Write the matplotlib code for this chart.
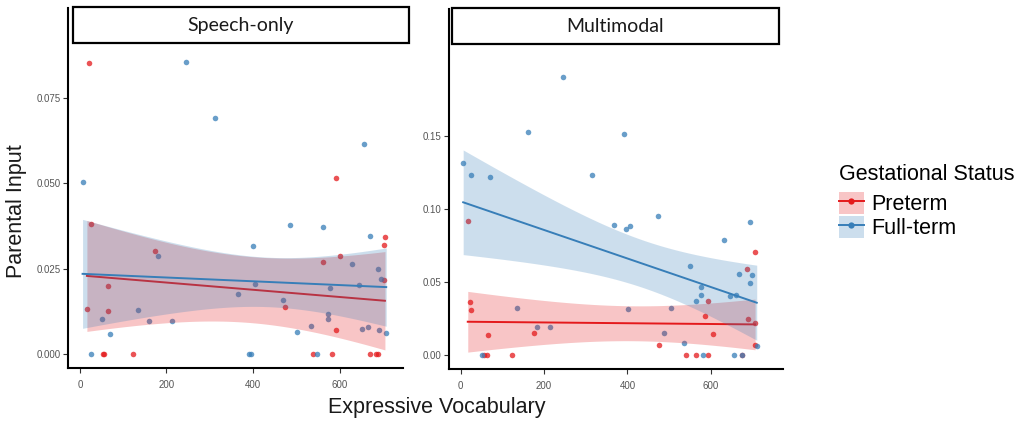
import numpy as np
import matplotlib
matplotlib.use("Agg")
import matplotlib.pyplot as plt
from matplotlib.patches import Rectangle, Patch
from matplotlib.lines import Line2D

plt.rcParams['font.family'] = ['Liberation Sans', 'DejaVu Sans']

# ---------------- data ----------------
groups = ["Preterm", "Full-term"]
group_colors = ["#E41A1C", "#377EB8"]
panels = ["Speech-only", "Multimodal"]

speech_pre_x = [16, 21, 25, 53, 56, 65, 65, 123, 174, 473, 538, 563, 583, 591, 591,
                602, 671, 684, 689, 703, 704, 705]
speech_pre_y = [0.0131, 0.0854, 0.0381, 0, 0, 0.0200, 0.0125, 0, 0.0303, 0.0139,
                0, 0.0270, 0, 0.0069, 0.0515, 0.0286, 0, 0, 0, 0.0320, 0.0217, 0.0343]

speech_full_x = [6, 25, 50, 69, 133, 160, 181, 212, 244, 312, 366, 391, 395, 400, 405,
                 470, 486, 502, 534, 548, 563, 574, 574, 579, 630, 644, 653, 657, 666,
                 671, 690, 691, 697, 708]
speech_full_y = [0.0505, 0, 0.0102, 0.0058, 0.0130, 0.0096, 0.0288, 0.0098, 0.0857,
                 0.0693, 0.0177, 0, 0, 0.0317, 0.0204, 0.0159, 0.0379, 0.0064, 0.0082,
                 0, 0.0371, 0.0118, 0.0103, 0.0194, 0.0264, 0.0201, 0.0074, 0.0616,
                 0.0079, 0.0347, 0.0248, 0.0070, 0.0220, 0.0061]

multi_pre_x = [17, 22, 25, 55, 63, 65, 124, 176, 475, 540, 565, 585, 593, 594, 605,
               674, 686, 689, 705, 706, 706]
multi_pre_y = [0.0914, 0.0364, 0.0305, 0, 0, 0.0133, 0, 0.0149, 0.0069, 0, 0, 0.0263,
               0.0367, 0, 0.0142, 0, 0.0586, 0.0247, 0.0215, 0.0705, 0.0069]

multi_full_x = [6, 25, 50, 70, 134, 161, 182, 214, 246, 314, 367, 392, 396, 401,
                405, 473, 487, 504, 536, 550, 565, 576, 576, 581, 632, 647, 655, 661,
                668, 674, 693, 693, 699, 710]
multi_full_y = [0.1314, 0.1232, 0, 0.1222, 0.0323, 0.1525, 0.0188, 0.0193, 0.1905,
                0.1232, 0.0888, 0.1513, 0.0861, 0.0316, 0.0886, 0.0953, 0.0149, 0.0321,
                0.0080, 0.0609, 0.0369, 0.0467, 0.0412, 0, 0.0788, 0.0401, 0, 0.0410,
                0.0554, 0, 0.0909, 0.0492, 0.0547, 0.0062]

x_ticks = [0, 200, 400, 600]
speech_yticks = [0.000, 0.025, 0.050, 0.075]
multi_yticks = [0.00, 0.05, 0.10, 0.15]

panel_data = [
    [(speech_pre_x, speech_pre_y), (speech_full_x, speech_full_y)],
    [(multi_pre_x, multi_pre_y), (multi_full_x, multi_full_y)],
]
panel_yticks = [speech_yticks, multi_yticks]
panel_yfmt = ["{:.3f}", "{:.2f}"]
panel_ylim = [(-0.0041, 0.1014), (-0.0098, 0.2371)]
panel_xlim = [(-27.7, 746.8), (-28.0, 773.0)]


def t_quantile(df):
    # Cornish-Fisher expansion of the 97.5% Student-t quantile
    z = 1.959963985
    return (z + (z**3 + z) / (4 * df) + (5 * z**5 + 16 * z**3 + 3 * z) / (96 * df**2)
            + (3 * z**7 + 19 * z**5 + 17 * z**3 - 15 * z) / (384 * df**3))


def lm_fit(x, y, n_grid=80):
    x = np.asarray(x, float)
    y = np.asarray(y, float)
    n = len(x)
    b, a = np.polyfit(x, y, 1)
    resid = y - (a + b * x)
    s2 = np.sum(resid**2) / (n - 2)
    xb = x.mean()
    sxx = np.sum((x - xb) ** 2)
    xg = np.linspace(x.min(), x.max(), n_grid)
    yg = a + b * xg
    se = np.sqrt(s2 * (1.0 / n + (xg - xb) ** 2 / sxx))
    t = t_quantile(n - 2)
    return xg, yg, yg - t * se, yg + t * se


# ---------------- figure ----------------
W, H = 1027, 421
fig = plt.figure(figsize=(W / 100, H / 100), dpi=100)

ax_boxes = [(68, 8, 403, 368), (449, 9, 783, 369)]  # left, top, right, bottom (px)
strip_boxes = [(73, 7, 409, 43), (452, 8, 779, 44)]

for i, (l, t, r, b) in enumerate(ax_boxes):
    ax = fig.add_axes([l / W, 1 - b / H, (r - l) / W, (b - t) / H])
    # points
    for g, (xs, ys) in enumerate(panel_data[i]):
        ax.scatter(xs, ys, s=16, color=group_colors[g], alpha=0.75,
                   linewidths=0, zorder=2)
    # smooths: ribbon then line, per group
    for g, (xs, ys) in enumerate(panel_data[i]):
        xg, yg, lo, hi = lm_fit(xs, ys)
        ax.fill_between(xg, lo, hi, color=group_colors[g], alpha=0.25,
                        linewidth=0, zorder=3 + 2 * g)
        ax.plot(xg, yg, color=group_colors[g], lw=1.4, zorder=4 + 2 * g)

    ax.set_xlim(*panel_xlim[i])
    ax.set_ylim(*panel_ylim[i])
    ax.set_xticks(x_ticks)
    ax.set_xticklabels([str(v) for v in x_ticks])
    ax.set_yticks(panel_yticks[i])
    ax.set_yticklabels([panel_yfmt[i].format(v) for v in panel_yticks[i]])
    for sp in ["top", "right"]:
        ax.spines[sp].set_visible(False)
    for sp in ["left", "bottom"]:
        ax.spines[sp].set_linewidth(1.5)
        ax.spines[sp].set_color("black")
    ax.tick_params(axis="both", length=3.5, width=0.8, color="#333333",
                   labelsize=7, labelcolor="#555555", pad=2)
    ax.tick_params(axis="x", pad=5)

    # strip box (facet label)
    sl, st, sr, sb = strip_boxes[i]
    fig.patches.append(Rectangle((sl / W, 1 - sb / H), (sr - sl) / W, (sb - st) / H,
                                 transform=fig.transFigure, facecolor="white",
                                 edgecolor="black", linewidth=1.6, zorder=10))
    fig.text((sl + sr) / 2 / W, 1 - (st + sb) / 2 / H, panels[i], ha="center",
             va="center", fontsize=14, family=["Lato", "DejaVu Sans"],
             color="#1a1a1a", zorder=11)

# axis titles
fig.text(437 / W, 1 - 407 / H, "Expressive Vocabulary", ha="center", va="center",
         fontsize=15.5, color="#1a1a1a")
fig.text(17 / W, 1 - 211 / H, "Parental Input", ha="center", va="center",
         rotation=90, fontsize=15.5, color="#1a1a1a")

# legend
handles = []
for g in range(2):
    patch = Patch(facecolor=group_colors[g], alpha=0.25, edgecolor="none")
    line = Line2D([], [], color=group_colors[g], lw=1.4, marker="o", markersize=4.5,
                  markeredgewidth=0)
    handles.append((patch, line))
leg = fig.legend(handles, groups, title="Gestational Status", loc="upper left",
                 bbox_to_anchor=(827 / W, 1 - 152 / H), frameon=False, fontsize=15.5,
                 title_fontsize=15.5, handlelength=1.15, handleheight=1.2,
                 handletextpad=0.35, labelspacing=0.05, borderpad=0.55,
                 borderaxespad=0, alignment="left")
try:
    leg._legend_box.sep = 5.0  # a little more room between title and keys
except Exception:
    pass

fig.savefig("out.png", dpi=100)
